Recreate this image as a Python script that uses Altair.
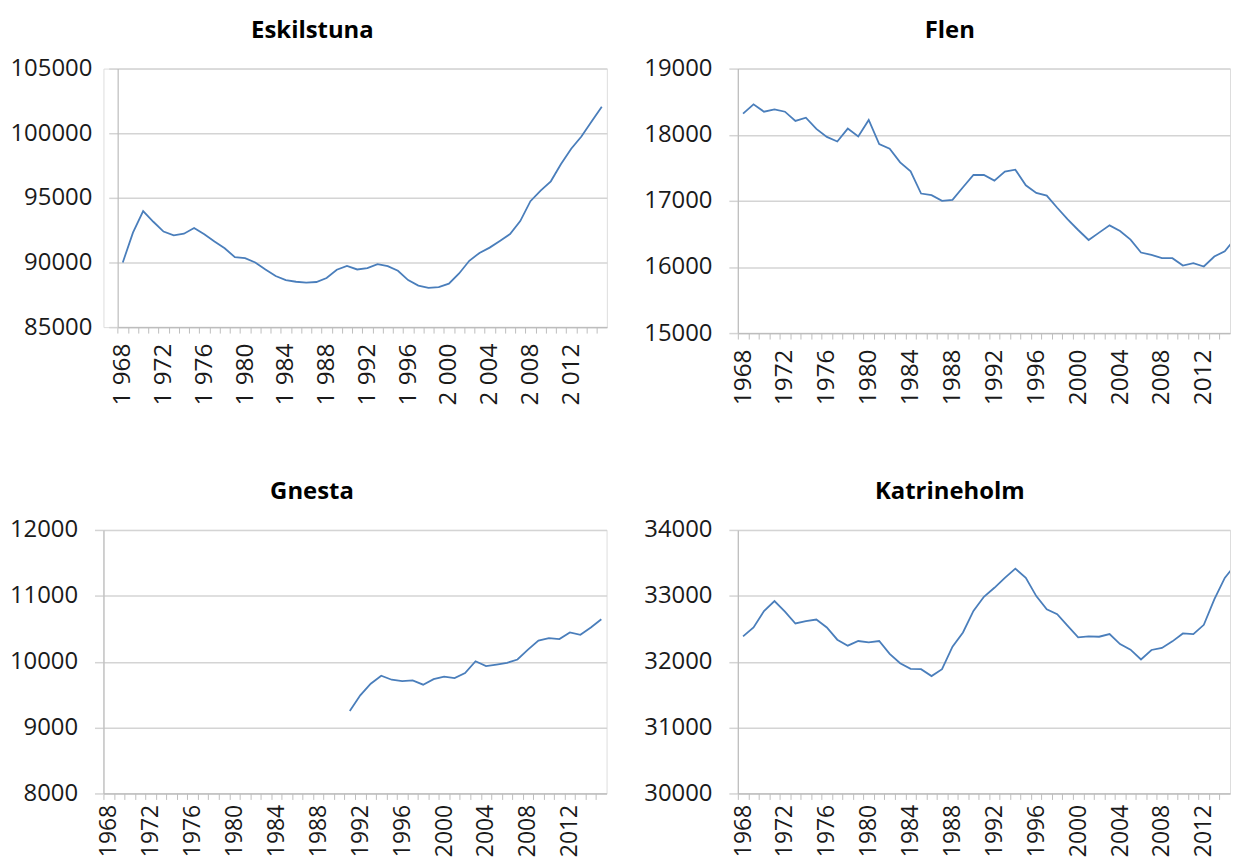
import altair as alt
import pandas as pd

# ---------------- data ----------------
years = list(range(1968, 2016))

eskilstuna = [90000, 92310, 93970, 93150, 92390, 92100, 92230, 92670, 92180, 91620,
              91100, 90410, 90330, 90000, 89460, 88950, 88640, 88510, 88440, 88490,
              88800, 89440, 89740, 89460, 89560, 89870, 89720, 89360, 88640, 88210,
              88030, 88100, 88360, 89150, 90130, 90740, 91150, 91670, 92200, 93200,
              94740, 95560, 96280, 97620, 98800, 99740, 100900, 102050]

flen = [18318, 18459, 18348, 18383, 18348, 18208, 18258, 18088, 17967, 17897,
        18093, 17972, 18223, 17857, 17787, 17581, 17446, 17110, 17085, 17000,
        17015, 17205, 17391, 17391, 17306, 17441, 17471, 17235, 17120, 17080,
        16895, 16719, 16559, 16408, 16519, 16629, 16544, 16413, 16218, 16183,
        16133, 16133, 16022, 16057, 16007, 16158, 16238, 16430]

gnesta_years = list(range(1991, 2016))
gnesta = [9250, 9490, 9666, 9787, 9726, 9706, 9716, 9651, 9736, 9772,
          9751, 9827, 10007, 9932, 9957, 9982, 10033, 10183, 10319, 10359,
          10344, 10444, 10409, 10520, 10645]

katrineholm = [32384, 32519, 32770, 32921, 32760, 32580, 32615, 32640, 32519, 32334,
               32243, 32314, 32294, 32314, 32118, 31977, 31892, 31887, 31782, 31887,
               32228, 32444, 32770, 32986, 33122, 33272, 33413, 33272, 32996, 32795,
               32720, 32544, 32369, 32384, 32379, 32419, 32268, 32183, 32033, 32178,
               32208, 32309, 32429, 32419, 32560, 32946, 33272, 33470]

titles = ["Eskilstuna", "Flen", "Gnesta", "Katrineholm"]
y_domains = [[85000, 105000], [15000, 19000], [8000, 12000], [30000, 34000]]
y_ticks = [[85000, 90000, 95000, 100000, 105000],
           [15000, 16000, 17000, 18000, 19000],
           [8000, 9000, 10000, 11000, 12000],
           [30000, 31000, 32000, 33000, 34000]]

# ---------------- style ----------------
FONT = "Open Sans"
LINE = "#4a7ebb"
GRID = "#d4d4d4"
AXIS = "#bdbdbd"
TEXT = "#1a1a1a"
X0 = 1967.5
SHOW = "datum.value % 4 == 0 && datum.value < 2015"


def panel(xs, ys, title, ydom, yvals, width, height, xmax, spaced, title_dx,
          inset=0.0, xfont=24.5, xpad=10):
    """inset > 0: the plot area starts `inset` px right of the cell origin."""
    df = pd.DataFrame({"year": xs, "value": ys})
    band = (width - inset) / (xmax - X0)
    tick_vals = list(range(1968, int(xmax + 0.5) + 1))
    if spaced:
        lab = ("substring(toString(datum.value),0,1) + ' ' + "
               "substring(toString(datum.value),1)")
    else:
        lab = "toString(datum.value)"
    label_expr = f"({SHOW}) ? {lab} : ''"
    x_axis = alt.Axis(
        values=tick_vals, labelExpr=label_expr, labelAngle=-90,
        labelFont=FONT,
        labelFontSize={"condition": {"test": SHOW, "value": xfont}, "value": 0},
        labelColor=TEXT,
        labelPadding=xpad, labelOverlap=False, labelFlush=False,
        tickOffset=-band / 2, labelOffset=band / 2,
        tickSize=6, tickColor=AXIS, tickWidth=1,
        domainColor=AXIS, domainWidth=1.2, grid=False, title=None,
    )
    y_axis = alt.Axis(
        values=yvals, format="d", labelFont=FONT, labelFontSize=24,
        labelColor=TEXT, labelPadding=17, tickSize=9, tickColor=GRID,
        tickWidth=1.5, domainColor=AXIS, domainWidth=1.2,
        grid=True, gridColor=GRID, gridWidth=1.5, title=None,
        offset=-inset,
    )
    if inset:
        xscale = alt.Scale(domain=[X0, xmax], range=[inset, width], nice=False, zero=False)
    else:
        xscale = alt.Scale(domain=[X0, xmax], nice=False, zero=False)
    yscale = alt.Scale(domain=ydom, nice=False, zero=False)

    return alt.Chart(df).mark_line(color=LINE, strokeWidth=1.8, clip=True).encode(
        x=alt.X("year:Q", scale=xscale, axis=x_axis),
        y=alt.Y("value:Q", scale=yscale, axis=y_axis),
    ).properties(
        width=width, height=height,
        title=alt.TitleParams(title, font=FONT, fontSize=24, fontWeight="bold",
                              color="#000000", anchor="middle", frame="bounds",
                              offset=13.7, dx=title_dx),
    )


a = panel(years, eskilstuna, titles[0], y_domains[0], y_ticks[0], 506.3, 260, 2015.5,
          True, 4, inset=14.3)
b = panel(years, flen, titles[1], y_domains[1], y_ticks[1], 495, 266, 2014.5, False, 13)
c = panel(gnesta_years, gnesta, titles[2], y_domains[2], y_ticks[2], 506, 265, 2015.5,
          False, 4, xfont=23, xpad=5)
d = panel(years, katrineholm, titles[3], y_domains[3], y_ticks[3], 495, 265, 2014.5,
          False, 13, xfont=23, xpad=5)

chart = alt.vconcat(
    alt.hconcat(a, b, spacing=35),
    alt.hconcat(c, d, spacing=35),
    spacing=74,
).properties(padding={"left": 0, "top": 7.5, "right": 0, "bottom": 0}
).configure_view(stroke=None).configure(background="white")

chart.save("out.html", embed_options={"renderer": "svg", "actions": False})
